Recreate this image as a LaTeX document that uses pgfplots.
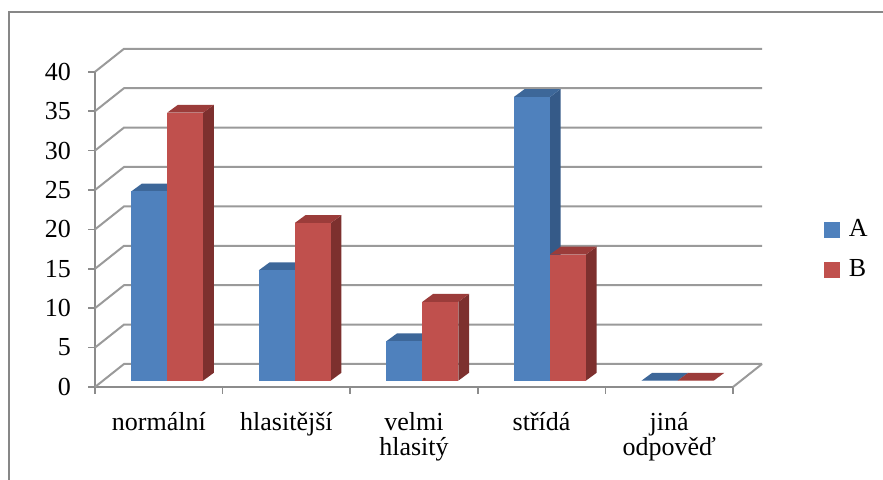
\documentclass[border=0pt]{standalone}
\usepackage{fontspec}
\setmainfont{Liberation Serif}
\usepackage{pgfplots}
\usepackage{pgfplotstable}
\pgfplotsset{compat=1.18}

\definecolor{Afront}{HTML}{4F81BD}
\definecolor{Atop}{HTML}{3D6799}
\definecolor{Aside}{HTML}{355A88}
\definecolor{Bfront}{HTML}{C0504D}
\definecolor{Btop}{HTML}{9B3C3A}
\definecolor{Bside}{HTML}{7D302E}
\definecolor{gridc}{HTML}{9A9A9A}
\definecolor{axisc}{HTML}{8C8C8C}
\definecolor{framec}{HTML}{878787}

\pgfplotstableread{
x   A   B
0.5 24  34
1.5 14  20
2.5 5   10
3.5 36  16
4.5 0   0
}\data

% prism: #1 x offset of front face (pt), #2 front, #3 top, #4 side
\newcommand\prismmark[4]{%
  \pgfmathsetmacro\hh{\val*3.94}%
  \pgfmathsetmacro\xa{#1+4.2}%
  \pgfmathsetmacro\xb{\xa+18}%
  \pgfmathsetmacro\yt{3.2}%
  \pgfmathsetmacro\yb{3.2-\hh}%
  % side face
  \pgfsetfillcolor{#4}%
  \pgfpathmoveto{\pgfpoint{\xb pt}{\yb pt}}%
  \pgfpathlineto{\pgfpoint{\xb pt+5.3pt}{\yb pt+3.9pt}}%
  \pgfpathlineto{\pgfpoint{\xb pt+5.3pt}{\yt pt+3.9pt}}%
  \pgfpathlineto{\pgfpoint{\xb pt}{\yt pt}}%
  \pgfpathclose
  \pgfusepath{fill}%
  % top face
  \pgfsetfillcolor{#3}%
  \pgfpathmoveto{\pgfpoint{\xa pt}{\yt pt}}%
  \pgfpathlineto{\pgfpoint{\xb pt}{\yt pt}}%
  \pgfpathlineto{\pgfpoint{\xb pt+5.3pt}{\yt pt+3.9pt}}%
  \pgfpathlineto{\pgfpoint{\xa pt+5.3pt}{\yt pt+3.9pt}}%
  \pgfpathclose
  \pgfusepath{fill}%
  % front face
  \pgfsetfillcolor{#2}%
  \pgfpathrectanglecorners{\pgfpoint{\xa pt}{\yb pt}}{\pgfpoint{\xb pt}{\yt pt}}%
  \pgfusepath{fill}%
}
\pgfdeclareplotmark{prismA}{\prismmark{-18}{Afront}{Atop}{Aside}}
\pgfdeclareplotmark{prismB}{\prismmark{0}{Bfront}{Btop}{Bside}}

\begin{document}
\begin{tikzpicture}
\useasboundingbox (0,0) rectangle (441.5pt,240pt);
\draw[framec, line width=1pt] (4.5pt,0) -- (4.5pt,234pt) -- (441.5pt,234pt);
\begin{axis}[
  at={(47.5pt,46.5pt)}, anchor=south west,
  x=63.8pt, y=3.94pt,
  xmin=0, xmax=5, ymin=0, ymax=40,
  clip=false,
  axis x line*=bottom, axis y line*=left,
  axis line style={draw=axisc, line width=0.8pt},
  tick style={draw=axisc, line width=0.8pt},
  tick align=outside, major tick length=3.5pt,
  ytick={0,5,...,40},
  /pgf/number format/assume math mode=true,
  yticklabel={\pgfmathprintnumber{\tick}},
  xtick={0,1,2,3,4,5},
  xticklabels={,,,,,},
  extra x ticks={0.5,1.5,2.5,3.5,4.5},
  extra x tick labels={normální,hlasitější,{velmi\\hlasitý},střídá,{jiná\\odpověď}},
  extra x tick style={major tick length=0pt, xticklabel style={align=center, anchor=north, yshift=-9pt}},
  every tick label/.append style={font=\fontsize{13}{12.5}\selectfont},
  yticklabel style={xshift=-5pt},
  legend style={draw=none, fill=none, at={(axis description cs:1.142,0.435)}, anchor=west,
    font=\fontsize{13}{14}\selectfont, row sep=6pt, inner sep=0pt},
  legend cell align=left,
]
\pgfplotsinvokeforeach{0,5,...,40}{
  \draw[gridc, line width=1pt] (axis cs:0,#1) -- ++(14.5pt,11.5pt) -- ([shift={(14.5pt,11.5pt)}]axis cs:5,#1);
}
\draw[gridc, line width=1pt] (axis cs:5,0) -- ++(14.5pt,11.5pt);
\addplot[only marks, mark=prismA, visualization depends on={rawy \as \val},
  legend image code/.code={\fill[Afront] (0pt,-3.75pt) rectangle (7.5pt,3.75pt); \path (10pt,0pt);}]
  table[x=x, y=A] {\data};
\addlegendentry{A}
\addplot[only marks, mark=prismB, visualization depends on={rawy \as \val},
  legend image code/.code={\fill[Bfront] (0pt,-3.75pt) rectangle (7.5pt,3.75pt); \path (10pt,0pt);}]
  table[x=x, y=B] {\data};
\addlegendentry{B}
\end{axis}
\end{tikzpicture}
\end{document}
